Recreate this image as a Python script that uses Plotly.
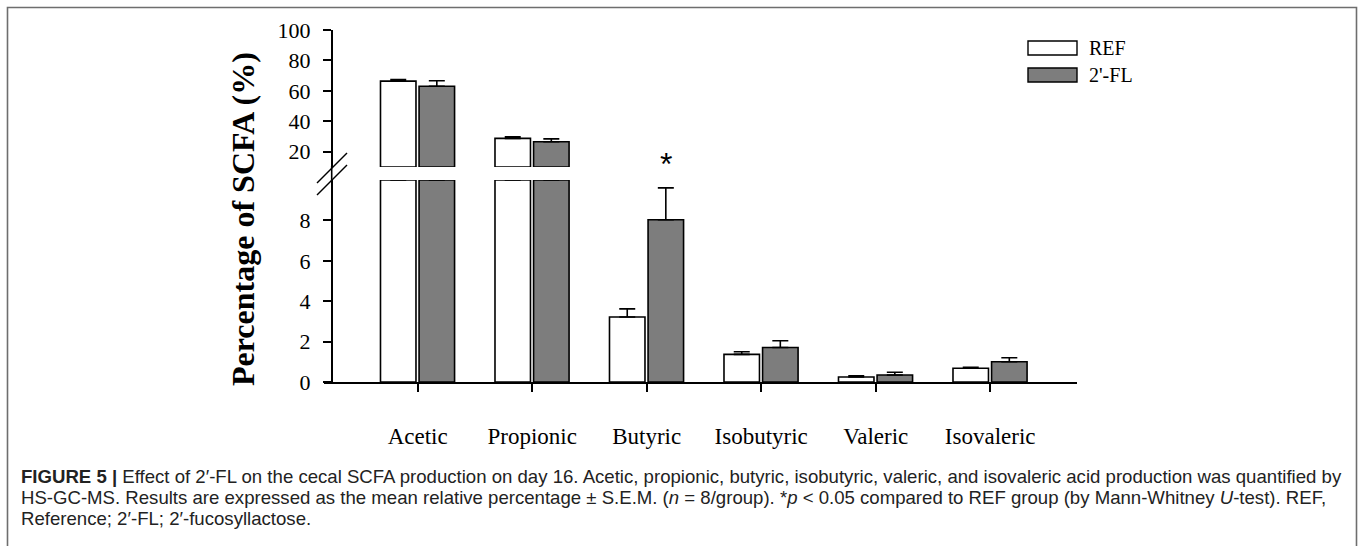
import plotly.graph_objects as go

# ---------------- data ----------------
categories = ["Acetic", "Propionic", "Butyric", "Isobutyric", "Valeric", "Isovaleric"]
ref_mean = [66.4, 28.8, 3.22, 1.37, 0.25, 0.68]
ref_sem = [1.1, 1.1, 0.40, 0.13, 0.06, 0.05]
fl_mean = [63.0, 26.6, 8.03, 1.71, 0.35, 1.00]
fl_sem = [3.7, 1.9, 1.58, 0.33, 0.13, 0.20]
series_names = ["REF", "2'-FL"]
low_ticks = [0, 2, 4, 6, 8]
high_ticks = [20, 40, 60, 80, 100]
axis_break = 10
significant = ["", "", "*", "", "", ""]

# ---------------- geometry helpers (pixel -> paper) ----------------
W, H = 1360, 546
def px(x):
    return x / W
def py(y):
    return 1 - y / H

SERIF = "Liberation Serif, Times New Roman, serif"
SANS = "Liberation Sans, Arial, sans-serif"
GRAY = "#7d7d7d"

idx = list(range(len(categories)))
BAR_W = 0.31
offsets = [-0.325, 0.012]
fills = ["white", GRAY]

fig = go.Figure()
for s, (means, sems) in enumerate([(ref_mean, ref_sem), (fl_mean, fl_sem)]):
    low_y = [min(v, axis_break) for v in means]
    low_err = [e if v < axis_break else float("nan") for v, e in zip(means, sems)]
    fig.add_trace(go.Bar(
        x=idx, y=low_y, width=BAR_W, offset=offsets[s],
        marker=dict(color=fills[s], line=dict(color="black", width=1.6)),
        error_y=dict(type="data", array=low_err, arrayminus=[0] * len(idx), symmetric=False,
                     color="black", thickness=1.6, width=8),
        xaxis="x", yaxis="y", showlegend=False, name=series_names[s],
    ))
    hx = [i for i, v in zip(idx, means) if v > axis_break]
    hy = [v - axis_break for v in means if v > axis_break]
    he = [e for v, e in zip(means, sems) if v > axis_break]
    fig.add_trace(go.Bar(
        x=hx, y=hy, base=axis_break, width=BAR_W, offset=offsets[s],
        marker=dict(color=fills[s], line=dict(color="black", width=1.6)),
        error_y=dict(type="data", array=he, arrayminus=[0] * len(hx), symmetric=False,
                     color="black", thickness=1.6, width=8),
        xaxis="x", yaxis="y2", showlegend=False, name=series_names[s],
    ))

x_axis_left, x_axis_right = 324, 1077
y_axis_x = 331.7
cat0_px, cat_step = 417.7, 114.5
xr = [-(cat0_px - x_axis_left) / cat_step,
      (len(categories) - 1) + (x_axis_right - (cat0_px + (len(categories) - 1) * cat_step)) / cat_step]

fig.update_layout(
    width=W, height=H, autosize=False,
    margin=dict(l=0, r=0, t=0, b=0, pad=0),
    paper_bgcolor="white", plot_bgcolor="rgba(0,0,0,0)",
    barmode="overlay",
    showlegend=False,
    xaxis=dict(domain=[px(x_axis_left), px(x_axis_right)], range=xr, anchor="y", automargin=False,
               tickmode="array", tickvals=idx, ticktext=categories,
               showline=True, linecolor="black", linewidth=1.6,
               ticks="outside", ticklen=8, tickwidth=1.6, tickcolor="black",
               showgrid=False, zeroline=False,
               tickfont=dict(family=SERIF, size=23, color="black"), ticklabelstandoff=25),
    yaxis=dict(domain=[py(382), py(180)], range=[0, axis_break], anchor="free", position=px(y_axis_x),
               automargin=False, tickmode="array", tickvals=low_ticks,
               showline=True, linecolor="black", linewidth=1.6,
               ticks="outside", ticklen=8, tickwidth=1.6, tickcolor="black",
               showgrid=False, zeroline=False,
               tickfont=dict(family=SERIF, size=22, color="black"), ticklabelstandoff=8),
    yaxis2=dict(domain=[py(167), py(30)], range=[axis_break, 100], anchor="free", position=px(y_axis_x),
                automargin=False, tickmode="array", tickvals=high_ticks,
                showline=True, linecolor="black", linewidth=1.6,
                ticks="outside", ticklen=8, tickwidth=1.6, tickcolor="black",
                showgrid=False, zeroline=False,
                tickfont=dict(family=SERIF, size=22, color="black"), ticklabelstandoff=8),
)

shapes = []
# connect axis through break
shapes.append(dict(type="line", xref="paper", yref="paper", x0=px(y_axis_x), x1=px(y_axis_x),
                   y0=py(181), y1=py(166), line=dict(color="black", width=1.6)))
# break slashes
for y_lo in (183, 195):
    shapes.append(dict(type="line", xref="paper", yref="paper", x0=px(317), x1=px(347),
                       y0=py(y_lo), y1=py(y_lo - 30), line=dict(color="black", width=1.4)))
# legend boxes
for k, (y0, y1) in enumerate([(41, 55), (68, 82)]):
    shapes.append(dict(type="rect", xref="paper", yref="paper", x0=px(1028), x1=px(1077),
                       y0=py(y1), y1=py(y0), fillcolor=fills[k], line=dict(color="black", width=1.4)))
# outer figure frame
shapes.append(dict(type="rect", xref="paper", yref="paper", x0=px(7.5), x1=px(1356.5),
                   y0=-0.2, y1=py(7.5), line=dict(color="#6e6e6e", width=1.6), fillcolor="rgba(0,0,0,0)"))
fig.update_layout(shapes=shapes)

annotations = []
for k, (name, yc) in enumerate(zip(series_names, [48, 75])):
    annotations.append(dict(xref="paper", yref="paper", x=px(1087), y=py(yc), xanchor="left", yanchor="middle",
                            text=name, showarrow=False, font=dict(family=SERIF, size=20, color="black")))
# significance marker
for i, mark in enumerate(significant):
    if mark:
        annotations.append(dict(xref="x", yref="paper", x=i + offsets[1] + BAR_W / 2, y=py(164),
                                xanchor="center", yanchor="middle", text=mark, showarrow=False,
                                font=dict(family="Liberation Sans, Arial, sans-serif", size=32, color="black")))
# y title
annotations.append(dict(xref="paper", yref="paper", x=px(243), y=py(219), xanchor="center", yanchor="middle",
                        text="<b>Percentage of SCFA (%)</b>", textangle=-90, showarrow=False,
                        font=dict(family=SERIF, size=32, color="black")))
# caption
cap_lines = [
    "<b>FIGURE 5 |</b> Effect of 2′-FL on the cecal SCFA production on day 16. Acetic, propionic, butyric, isobutyric, valeric, and isovaleric acid production was quantified by",
    "HS-GC-MS. Results are expressed as the mean relative percentage ± S.E.M. (<i>n</i> = 8/group). *<i>p</i> &lt; 0.05 compared to REF group (by Mann-Whitney <i>U</i>-test). REF,",
    "Reference; 2′-FL; 2′-fucosyllactose.",
]
for j, line in enumerate(cap_lines):
    annotations.append(dict(xref="paper", yref="paper", x=px(19), y=py(476 + 21 * j), xanchor="left", yanchor="middle",
                            text=line, showarrow=False, font=dict(family=SANS, size=18.6, color="#222222")))
fig.update_layout(annotations=annotations)

fig.write_html("out.html", config={"displayModeBar": False},
               post_script="document.body.style.margin='0px';document.body.style.overflow='hidden';")
